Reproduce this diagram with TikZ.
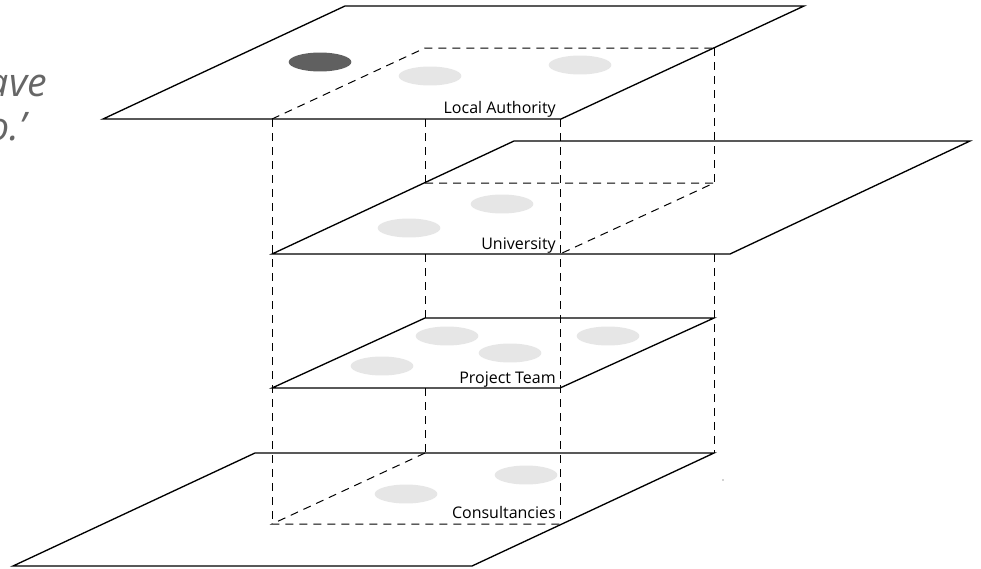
\documentclass[tikz,border=0pt]{standalone}
\usepackage{fontspec}
\newfontfamily\osans{Open Sans}
\definecolor{spotgray}{HTML}{E6E6E6}
\definecolor{darkspot}{HTML}{606060}
\definecolor{quotegray}{HTML}{666666}
\begin{document}
\begin{tikzpicture}[x=0.75pt,y=-0.75pt,
  plane/.style={draw=black,line width=1pt,fill=white,line join=miter},
  hid/.style={draw=black,line width=0.75pt,dash pattern=on 6pt off 4.5pt},
  spot/.style={fill=spotgray},
  dspot/.style={fill=darkspot},
  lbl/.style={font=\osans\fontsize{12}{14}\selectfont,inner sep=0pt,anchor=base east},
  quote/.style={font=\osans\itshape\fontsize{29.5}{33}\selectfont,text=quotegray,inner sep=0pt,anchor=base east}]
\useasboundingbox (0,0) rectangle (981,568);

% plane corners
\coordinate (T1) at (103,119); \coordinate (T2) at (561,119);
\coordinate (T3) at (804,6);   \coordinate (T4) at (345,6);
\coordinate (U1) at (272,254); \coordinate (U2) at (730,254);
\coordinate (U3) at (970,141); \coordinate (U4) at (514,141);
\coordinate (P1) at (272,388); \coordinate (P2) at (560,388);
\coordinate (P3) at (714,318); \coordinate (P4) at (425,318);
\coordinate (C1) at (13,566);  \coordinate (C2) at (472,566);
\coordinate (C3) at (714,453); \coordinate (C4) at (255,453);

% box corners per level
\coordinate (Ta) at (272,119); \coordinate (Tb) at (560,119);
\coordinate (Tc) at (714,48);  \coordinate (Td) at (425,48);
\coordinate (Tf) at (425,119);
\coordinate (Ua) at (272,254); \coordinate (Ub) at (560,254);
\coordinate (Uc) at (714,183); \coordinate (Ud) at (425,183);
\coordinate (Uf) at (425,254); \coordinate (Ug) at (714,254);
\coordinate (Pa) at (272,388); \coordinate (Pb) at (560,388);
\coordinate (Pc) at (714,318); \coordinate (Pd) at (425,318);
\coordinate (Pf) at (425,388);
\coordinate (Ca) at (272,524); \coordinate (Cb) at (560,524);
\coordinate (Cc) at (714,453); \coordinate (Cd) at (425,453);

% planes
\path[plane] (T1) -- (T2) -- (T3) -- (T4) -- cycle;
\path[plane] (U1) -- (U2) -- (U3) -- (U4) -- cycle;
\path[plane] (P1) -- (P2) -- (P3) -- (P4) -- cycle;
\path[plane] (C1) -- (C2) -- (C3) -- (C4) -- cycle;

% spots
\fill[dspot] (320,62) ellipse [x radius=23.5pt, y radius=7.1pt];
\fill[spot] (430,76) ellipse [x radius=23.5pt, y radius=7.1pt];
\fill[spot] (580,65) ellipse [x radius=23.5pt, y radius=7.1pt];
\fill[spot] (409,228) ellipse [x radius=23.5pt, y radius=7.1pt];
\fill[spot] (502,204) ellipse [x radius=23.5pt, y radius=7.1pt];
\fill[spot] (447,336) ellipse [x radius=23.5pt, y radius=7.1pt];
\fill[spot] (510,353) ellipse [x radius=23.5pt, y radius=7.1pt];
\fill[spot] (382,366) ellipse [x radius=23.5pt, y radius=7.1pt];
\fill[spot] (608,336) ellipse [x radius=23.5pt, y radius=7.1pt];
\fill[spot] (406,494) ellipse [x radius=23.5pt, y radius=7.1pt];
\fill[spot] (526,475) ellipse [x radius=23.5pt, y radius=7.1pt];
\fill[gray!70] (723,480) circle [radius=0.7pt];

% hidden (dashed) box edges
\draw[hid] (Ta) -- (Td) -- (Tc);
\draw[hid] (Ud) -- (Uc) -- (Ub);
\draw[hid] (Cd) -- (Ca) -- (Cb);
\draw[hid] (Ta) -- (Ca);
\draw[hid] (Tb) -- (Cb);
\draw[hid] (Tf) -- (Ud);
\draw[hid] (Uf) -- (Pd);
\draw[hid] (Pf) -- (Cd);
\draw[hid] (Tc) -- (Uc);
\draw[hid] (Ug) -- (Cc);

% labels
\node[lbl] (la) at (556,113.5) {Local Authority};
\node[lbl] (un) at (556,249) {University};
\node[lbl] (pt) at (556,383.5) {Project Team};
\node[lbl] (co) at (556,518.5) {Consultancies};

% quote fragment (cut off at the left edge, as in the reference)
\node[quote] (q1) at (47,96) {ave};
\node[quote] (q2) at (26,140) {o.’};
\end{tikzpicture}
\end{document}
